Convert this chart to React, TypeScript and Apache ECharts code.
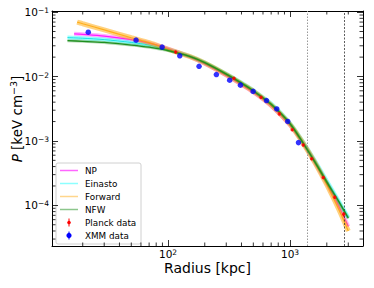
import { useEffect, useRef } from "react";
import * as echarts from "echarts";

// ---- data ----
const xmmR = [22.2, 54.7, 89.5, 124.8, 179.6, 249, 320, 392, 498, 641, 778, 957, 1172];
const xmmP = [0.0488, 0.0367, 0.0286, 0.021, 0.0144, 0.01073, 0.00877, 0.00735, 0.00588, 0.00423, 0.00314, 0.00201, 0.000942];

const planckR = [115.6, 347, 578, 817, 1042, 1282, 1503, 1871, 2325, 2754];
const planckP = [0.024, 0.00942, 0.00475, 0.00263, 0.00149, 0.000867, 0.000528, 0.00027, 0.000134, 0.0000728];
const planckErr = [0.0012, 0.0004, 0.0002, 0.00011, 0.00006, 0.00004, 0.000025, 0.000013, 0.000008, 0.000006];

const npR = [17, 20, 30, 50, 70, 100, 150, 200, 300, 400, 500, 700, 1000, 1300, 1600, 2000, 2500, 3000];
const npP = [0.046, 0.0452, 0.0425, 0.0375, 0.033, 0.0272, 0.0203, 0.0158, 0.0104, 0.0075, 0.0057, 0.0035, 0.00175, 0.00088, 0.00046, 0.00022, 0.000098, 0.000047];

const einR = [15, 20, 30, 50, 70, 100, 150, 200, 300, 400, 500, 700, 1000, 1300, 1600, 2000, 2500, 3000];
const einP = [0.0402, 0.0393, 0.0374, 0.0338, 0.0308, 0.0262, 0.0208, 0.0165, 0.011, 0.008, 0.0061, 0.0038, 0.00188, 0.00092, 0.00049, 0.00024, 0.000118, 0.000065];

const fwdR = [18, 20, 30, 50, 70, 100, 150, 200, 300, 400, 500, 700, 1000, 1300, 1600, 2000, 2500, 3000];
const fwdP = [0.07, 0.066, 0.053, 0.04, 0.0335, 0.0265, 0.0205, 0.0162, 0.0107, 0.0077, 0.0059, 0.0036, 0.0018, 0.00088, 0.00046, 0.00021, 0.000088, 0.00004];

const nfwR = [15, 20, 30, 50, 70, 100, 150, 200, 300, 400, 500, 700, 1000, 1300, 1600, 2000, 2500, 3000];
const nfwP = [0.036, 0.0352, 0.0338, 0.0308, 0.0285, 0.0252, 0.0205, 0.0164, 0.0109, 0.0079, 0.006, 0.0037, 0.00185, 0.00088, 0.00047, 0.00023, 0.000115, 0.000063];

const vLines = [1396, 2775];

const xMinorTicks = [20, 30, 40, 50, 60, 70, 80, 90, 200, 300, 400, 500, 600, 700, 800, 900, 2000, 3000];
const yMinorTicks = [
  3e-5, 4e-5, 5e-5, 6e-5, 7e-5, 8e-5, 9e-5,
  2e-4, 3e-4, 4e-4, 5e-4, 6e-4, 7e-4, 8e-4, 9e-4,
  2e-3, 3e-3, 4e-3, 5e-3, 6e-3, 7e-3, 8e-3, 9e-3,
  2e-2, 3e-2, 4e-2, 5e-2, 6e-2, 7e-2, 8e-2, 9e-2,
];

const legendItems = ["NP", "Einasto", "Forward", "NFW", "Planck data", "XMM data"];

const FONT = "DejaVu Sans";

const zip = (a: number[], b: number[]) => a.map((v, i) => [v, b[i]]);

function powLabel(v: number) {
  const l = Math.log10(v);
  const e = Math.round(l);
  if (Math.abs(l - e) > 1e-6) return "";
  const es = e < 0 ? "\u2212" + Math.abs(e) : String(e);
  return `{b|10}{s|${es}}`;
}

const labelRich = {
  b: { fontSize: 10.5, fontFamily: FONT, color: "#000", lineHeight: 11 },
  s: { fontSize: 7.5, fontFamily: FONT, color: "#000", verticalAlign: "top", lineHeight: 11, padding: [0, 0, 5, 0] },
};

export default function App() {
  const ref = useRef<HTMLDivElement>(null);
  useEffect(() => {
    document.body.style.margin = "0";
    const chart = echarts.init(ref.current!, null, { renderer: "svg" });

    const grid = { left: 52, right: 11, top: 11, bottom: 42 };

    const bandLine = (name: string, r: number[], p: number[], color: string, w: number, op: number, z: number) => ({
      name,
      type: "line",
      data: zip(r, p),
      showSymbol: false,
      symbol: "none",
      smooth: 0.3,
      lineStyle: { color, width: w, opacity: op },
      z,
      silent: true,
    });

    const minorX = {
      type: "custom",
      data: xMinorTicks.map((v) => [v]),
      silent: true,
      z: 20,
      renderItem: (params: any, api: any) => {
        const cs = params.coordSys;
        const x = api.coord([api.value(0), 0.01])[0];
        return {
          type: "group",
          children: [
            { type: "line", shape: { x1: x, y1: cs.y + cs.height, x2: x, y2: cs.y + cs.height - 3.5 }, style: { stroke: "#000", lineWidth: 0.8 } },
            { type: "line", shape: { x1: x, y1: cs.y, x2: x, y2: cs.y + 3.5 }, style: { stroke: "#000", lineWidth: 0.8 } },
          ],
        };
      },
    };
    const minorY = {
      type: "custom",
      data: yMinorTicks.map((v) => [100, v]),
      silent: true,
      z: 20,
      renderItem: (params: any, api: any) => {
        const cs = params.coordSys;
        const y = api.coord([100, api.value(1)])[1];
        return {
          type: "group",
          children: [
            { type: "line", shape: { x1: cs.x, y1: y, x2: cs.x + 3.5, y2: y }, style: { stroke: "#000", lineWidth: 0.8 } },
            { type: "line", shape: { x1: cs.x + cs.width, y1: y, x2: cs.x + cs.width - 3.5, y2: y }, style: { stroke: "#000", lineWidth: 0.8 } },
          ],
        };
      },
    };

    const errBars = {
      type: "custom",
      data: planckR.map((r, i) => [r, planckP[i], planckErr[i]]),
      silent: true,
      z: 9,
      renderItem: (params: any, api: any) => {
        const r = api.value(0), p = api.value(1), e = api.value(2);
        const a = api.coord([r, p - e]);
        const b = api.coord([r, p + e]);
        return { type: "line", shape: { x1: a[0], y1: a[1], x2: b[0], y2: b[1] }, style: { stroke: "#ff0000", lineWidth: 1 } };
      },
    };

    // legend drawn with graphic elements
    const lgX = 56, lgY = 163, lgRow = 13;
    const lgColors = ["rgba(255,0,255,0.6)", "rgba(0,255,255,0.45)", "rgba(255,165,0,0.45)", "rgba(0,128,0,0.45)"];
    const legendChildren: any[] = [
      { type: "rect", shape: { x: lgX, y: lgY, width: 85, height: 81, r: 2 }, style: { fill: "rgba(255,255,255,0.85)", stroke: "#d0d0d0", lineWidth: 1 } },
    ];
    legendItems.forEach((name, i) => {
      const cy = lgY + 7.5 + i * lgRow;
      if (i < 4) {
        legendChildren.push({ type: "line", shape: { x1: lgX + 4, y1: cy, x2: lgX + 22, y2: cy }, style: { stroke: lgColors[i], lineWidth: 1.5 } });
      } else {
        const col = i === 4 ? "#ff0000" : "#0000ff";
        const rad = i === 4 ? 1.8 : 2.6;
        legendChildren.push({ type: "line", shape: { x1: lgX + 13, y1: cy - 4, x2: lgX + 13, y2: cy + 4 }, style: { stroke: col, lineWidth: 1 } });
        legendChildren.push({ type: "circle", shape: { cx: lgX + 13, cy, r: rad }, style: { fill: col } });
      }
      legendChildren.push({
        type: "text",
        x: lgX + 29,
        y: cy,
        style: { text: name, font: `8.8px "${FONT}"`, fill: "#000", textVerticalAlign: "middle", verticalAlign: "middle" },
      });
    });

    const xCommon = {
      type: "log",
      logBase: 10,
      min: 11.2,
      max: 3960,
      axisLine: { show: true, lineStyle: { color: "#000", width: 1 } },
      axisTick: { show: true, inside: true, length: 6, lineStyle: { color: "#000", width: 0.8 } },
      splitLine: { show: false },
      minorTick: { show: false },
    };
    const yCommon = {
      type: "log",
      logBase: 10,
      min: 2.34e-5,
      max: 0.104,
      axisLine: { show: true, lineStyle: { color: "#000", width: 1 } },
      axisTick: { show: true, inside: true, length: 6, lineStyle: { color: "#000", width: 0.8 } },
      splitLine: { show: false },
      minorTick: { show: false },
    };

    chart.setOption({
      animation: false,
      backgroundColor: "#fff",
      textStyle: { fontFamily: FONT },
      grid: { ...grid, containLabel: false },
      xAxis: [
        {
          ...xCommon,
          position: "bottom",
          axisLabel: { show: true, margin: 2, formatter: powLabel, rich: labelRich, showMinLabel: false, showMaxLabel: false },
        },
        { ...xCommon, position: "top", axisLabel: { show: false } },
      ],
      yAxis: [
        {
          ...yCommon,
          position: "left",
          axisLabel: { show: true, margin: 3, formatter: powLabel, rich: labelRich, showMinLabel: false, showMaxLabel: true },
        },
        { ...yCommon, position: "right", axisLabel: { show: false } },
      ],
      graphic: [
        {
          type: "text",
          x: 207.5,
          y: 268,
          style: {
            text: "Radius [kpc]",
            textAlign: "center",
            textVerticalAlign: "middle",
            align: "center",
            verticalAlign: "middle",
            fill: "#000",
            font: `14px "${FONT}"`,
          },
        },
        {
          type: "text",
          x: 17,
          y: 119,
          rotation: Math.PI / 2,
          style: {
            text: "{i|P} [keV cm{s|\u22123}]",
            textAlign: "center",
            textVerticalAlign: "middle",
            align: "center",
            verticalAlign: "middle",
            fill: "#000",
            font: `13.5px "${FONT}"`,
            rich: {
              i: { fontSize: 13.5, fontStyle: "italic", fontFamily: FONT, lineHeight: 18 },
              s: { fontSize: 9.5, fontFamily: FONT, verticalAlign: "top", lineHeight: 18, padding: [0, 0, 8, 0] },
            },
          },
        },
        { type: "group", children: legendChildren, z: 100 },
      ],
      series: [
        bandLine("NP band", npR, npP, "#ff00ff", 4, 0.3, 2),
        bandLine("NP", npR, npP, "#ff00ff", 1.2, 0.85, 3),
        bandLine("Einasto band", einR, einP, "#00ffff", 4, 0.4, 2),
        bandLine("Einasto", einR, einP, "#00dada", 1, 0.8, 3),
        bandLine("Forward band", fwdR, fwdP, "#ffa500", 5, 0.5, 4),
        bandLine("Forward", fwdR, fwdP, "#ffa500", 1.2, 0.8, 4),
        bandLine("NFW band", nfwR, nfwP, "#008000", 3, 0.3, 5),
        bandLine("NFW", nfwR, nfwP, "#1f8f1f", 1.3, 1, 5),
        errBars,
        {
          name: "Planck data",
          type: "scatter",
          data: zip(planckR, planckP),
          symbol: "circle",
          symbolSize: 3.5,
          itemStyle: { color: "#ff0000" },
          z: 10,
        },
        {
          name: "XMM data",
          type: "scatter",
          data: zip(xmmR, xmmP),
          symbol: "circle",
          symbolSize: 5.5,
          itemStyle: { color: "#0000ff" },
          z: 11,
          markLine: {
            silent: true,
            symbol: "none",
            label: { show: false },
            data: [
              { xAxis: vLines[0], lineStyle: { color: "#999", type: [1.5, 1.5], width: 1 } },
              { xAxis: vLines[1], lineStyle: { color: "#333", type: [2, 1.5], width: 0.8 } },
            ],
          },
        },
        minorX,
        minorY,
      ],
    });
    return () => chart.dispose();
  }, []);
  return <div ref={ref} style={{ width: 374, height: 288 }} />;
}
